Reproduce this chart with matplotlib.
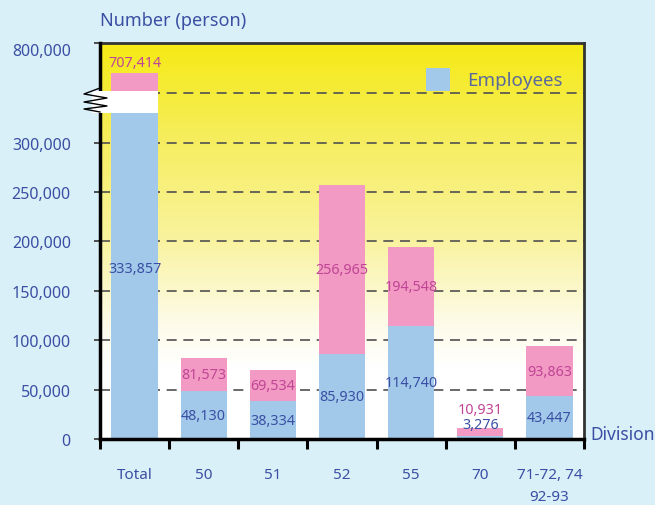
import matplotlib
matplotlib.use('Agg')
import matplotlib.pyplot as plt
import numpy as np
from matplotlib.colors import LinearSegmentedColormap
from matplotlib.patches import Rectangle

# data
divisions = ['Total', '50', '51', '52', '55', '70', '71-72, 74\n92-93']
employees = [333857, 48130, 38334, 85930, 114740, 3276, 43447]
totals = [707414, 81573, 69534, 256965, 194548, 10931, 93863]

# broken axis: values above the break are squeezed into the top band
BREAK_LO = 330000
BREAK_HI = 352000
Y_TOP = 401000


def upper(v):
    return BREAK_HI + (v - 650000) * (Y_TOP - BREAK_HI) / 150000


BG = '#daf0f8'
BLUE = '#a2c8ea'
PINK = '#f29ac3'
TXT_BLUE = '#3a4fa3'
TXT_PINK = '#c04596'

plt.rcParams['font.family'] = ['Noto Sans', 'DejaVu Sans']

fig = plt.figure(figsize=(6.55, 5.06), dpi=100, facecolor=BG)
ax = fig.add_axes([100 / 655, 1 - 440 / 506, 484 / 655, 396 / 506])

x = np.arange(len(divisions))
ax.set_xlim(-0.5, len(divisions) - 0.5)
ax.set_ylim(0, Y_TOP)

# yellow-to-white background
cmap = LinearSegmentedColormap.from_list('yl', [
    (0.0, '#ffffff'), (0.18, '#ffffff'), (0.3, '#fdfbe6'),
    (0.5, '#f9f3a0'), (0.75, '#f6ee60'), (1.0, '#f5ea14')])
grad = np.linspace(0, 1, 256).reshape(-1, 1)
ax.imshow(grad, cmap=cmap, origin='lower', aspect='auto',
          extent=(-0.5, len(divisions) - 0.5, 0, Y_TOP), zorder=0)

# dashed grid
for g in [50000, 100000, 150000, 200000, 250000, 300000, 350000]:
    ax.axhline(g, color='#505050', lw=1.2, ls=(0, (6, 4)), zorder=1)

w = 0.67
tot_top = upper(totals[0])

bars = ax.bar(x, employees, w, color=BLUE, zorder=2, label='Employees')
# pink part from employees up to total
bottoms = [BREAK_HI] + employees[1:]
heights = [tot_top - BREAK_HI] + [t - e for t, e in zip(totals[1:], employees[1:])]
ax.bar(x, heights, w, bottom=bottoms, color=PINK, zorder=2)

# white break band on the Total bar
ax.add_patch(Rectangle((-0.61, BREAK_LO), 0.61 + w / 2, BREAK_HI - BREAK_LO,
                       facecolor='white', edgecolor='none', zorder=5, clip_on=False))

# zigzag break mark on the y axis
zx = np.array([100, 84, 107, 84, 107, 84, 100]) / 655
zy = 1 - np.array([89, 95, 99, 103, 107, 110, 113]) / 506
fig.add_artist(plt.Line2D(zx, zy, color='black', lw=1.0, zorder=6))

# value labels
for i in range(len(divisions)):
    e, t = employees[i], totals[i]
    if i == 0:
        ax.text(x[i], tot_top + 10000, f'{t:,}', ha='center', va='center',
                color=TXT_PINK, fontsize=10.3, zorder=6)
        ax.text(x[i], e / 2 + 6000, f'{e:,}', ha='center', va='center',
                color=TXT_BLUE, fontsize=10.3, zorder=6)
    elif t < 20000:
        ax.text(x[i], t + 19000, f'{t:,}', ha='center', va='center',
                color=TXT_PINK, fontsize=10.3, zorder=6)
        ax.text(x[i], t + 3500, f'{e:,}', ha='center', va='center',
                color=TXT_BLUE, fontsize=10.3, zorder=6)
    else:
        ax.text(x[i], (e + t) / 2, f'{t:,}', ha='center', va='center',
                color=TXT_PINK, fontsize=10.3, zorder=6)
        ax.text(x[i], e / 2, f'{e:,}', ha='center', va='center',
                color=TXT_BLUE, fontsize=10.3, zorder=6)

# axes styling
for s in ['left', 'bottom']:
    ax.spines[s].set_linewidth(2.5)
    ax.spines[s].set_color('black')
for s in ['top', 'right']:
    ax.spines[s].set_linewidth(2.0)
    ax.spines[s].set_color('#333333')
ax.spines['left'].set_zorder(4)

yt = [0, 50000, 100000, 150000, 200000, 250000, 300000, Y_TOP]
ax.set_yticks(yt)
ax.set_yticklabels([f'{v:,}' for v in yt[:-1]] + ['800,000'])
ax.tick_params(axis='y', length=4, width=1.2, pad=17, labelsize=11.5,
               labelcolor=TXT_BLUE, color='#333333')
for lab in ax.get_yticklabels():
    lab.set_va('top' if lab.get_text() == '800,000' else 'center_baseline')

ax.set_xticks(np.arange(-0.5, len(divisions), 1.0))
ax.set_xticklabels([])
ax.tick_params(axis='x', which='major', length=7, width=2.2, color='black')
ax.set_xticks(x, minor=True)
ax.set_xticklabels(divisions, minor=True, linespacing=1.7, va='top')
ax.tick_params(axis='x', which='minor', length=0, pad=20, labelsize=11,
               labelcolor=TXT_BLUE)

fig.text(100 / 655, 1 - 21 / 506, 'Number (person)', color=TXT_BLUE,
         fontsize=13, ha='left', va='center')
fig.text(590 / 655, 1 - 435 / 506, 'Division', color=TXT_BLUE,
         fontsize=12.5, ha='left', va='center')

leg = ax.legend(handles=[bars], loc='upper right', frameon=False,
                fontsize=13.5, handlelength=1.3, handleheight=1.5,
                handletextpad=0.9, bbox_to_anchor=(0.99, 0.98))
for t in leg.get_texts():
    t.set_color('#5a6a9c')

fig.savefig('out.png', dpi=100, facecolor=BG)
